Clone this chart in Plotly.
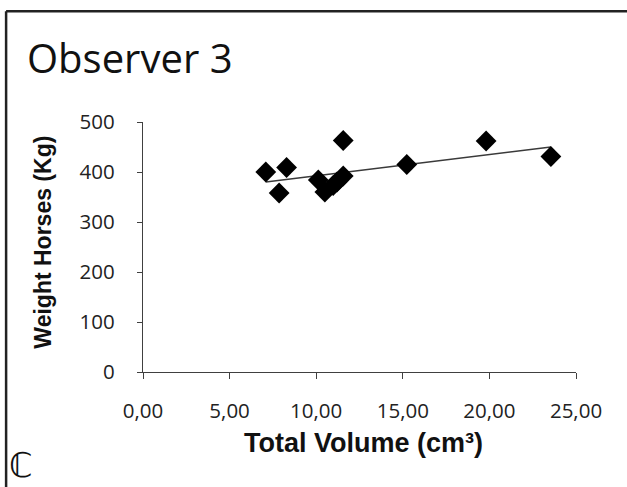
import numpy as np
import plotly.graph_objects as go

# Data
total_volume = [7.09, 8.29, 7.86, 11.56, 10.12, 10.50, 10.98, 11.56, 11.20, 15.23, 19.81, 23.55]
weight_horses = [400, 409, 358, 463, 384, 360, 373, 392, 380, 415, 462, 431]

x_ticks = [0, 5, 10, 15, 20, 25]
y_ticks = [0, 100, 200, 300, 400, 500]

title_text = "Observer 3"
x_title = "Total Volume (cm³)"
y_title = "Weight Horses (Kg)"
panel_label = "ℂ"

W, H = 627, 487
L, R, T, B = 143.3, 576.0, 121.7, 371.7
pw, ph = R - L, B - T


def px(X):
    return (X - L) / pw


def py(Y):
    return (B - Y) / ph


# Linear trendline
xs = np.array(total_volume)
ys = np.array(weight_horses)
slope, intercept = np.polyfit(xs, ys, 1)
lx = np.array([xs.min(), xs.max()])
ly = slope * lx + intercept

fig = go.Figure()
fig.add_trace(go.Scatter(
    x=lx, y=ly, mode="lines",
    line=dict(color="#3a3a3a", width=1.5),
    hoverinfo="skip", showlegend=False,
))
fig.add_trace(go.Scatter(
    x=total_volume, y=weight_horses, mode="markers",
    marker=dict(symbol="diamond", size=16, color="#000000",
                line=dict(width=0)),
    showlegend=False,
))

tick_font = dict(family="Open Sans", size=20.5, color="#222222")

fig.update_layout(
    width=W, height=H,
    margin=dict(l=L, r=W - R, t=T, b=H - B, pad=0),
    paper_bgcolor="white", plot_bgcolor="white",
    separators=", ",
    showlegend=False,
    title=dict(text=title_text, x=27 / W, xanchor="left", xref="container",
               y=1 - 59 / H, yanchor="middle", yref="container",
               font=dict(family="Open Sans", size=40, color="#111111")),
    xaxis=dict(range=[0, 25], tickvals=x_ticks, tickformat=".2f",
               showgrid=False, zeroline=False, showline=True,
               linecolor="#404040", linewidth=1.3,
               ticks="outside", ticklen=6, tickcolor="#404040", tickwidth=1.3,
               tickfont=tick_font, ticklabelstandoff=14),
    yaxis=dict(range=[0, 500], tickvals=y_ticks,
               showgrid=False, zeroline=False, showline=True,
               linecolor="#404040", linewidth=1.3,
               ticks="outside", ticklen=5, tickcolor="#404040", tickwidth=1.3,
               tickfont=tick_font, ticklabelstandoff=18),
    annotations=[
        dict(text="<b>" + x_title + "</b>", xref="paper", yref="paper",
             x=px(363.3), y=py(443),
             xanchor="center", yanchor="middle", showarrow=False,
             font=dict(family="Liberation Sans", size=27, color="#111111")),
        dict(text="<b>" + y_title + "</b>", xref="paper", yref="paper",
             x=px(43), y=py(241.7), textangle=-90,
             xanchor="center", yanchor="middle", showarrow=False,
             font=dict(family="Liberation Sans", size=23, color="#111111")),
        dict(text=panel_label, xref="paper", yref="paper",
             x=px(21), y=py(486.5), xanchor="center", yanchor="bottom",
             showarrow=False,
             font=dict(family="DejaVu Sans", size=34, color="#111111")),
    ],
    shapes=[
        dict(type="line", xref="paper", yref="paper",
             x0=px(6.5), x1=px(6.5), y0=py(11), y1=py(H + 20),
             line=dict(color="#222222", width=2.5)),
        dict(type="line", xref="paper", yref="paper",
             x0=px(6.5), x1=px(W + 20), y0=py(11), y1=py(11),
             line=dict(color="#222222", width=2.5)),
    ],
)

fig.write_html("out.html")
